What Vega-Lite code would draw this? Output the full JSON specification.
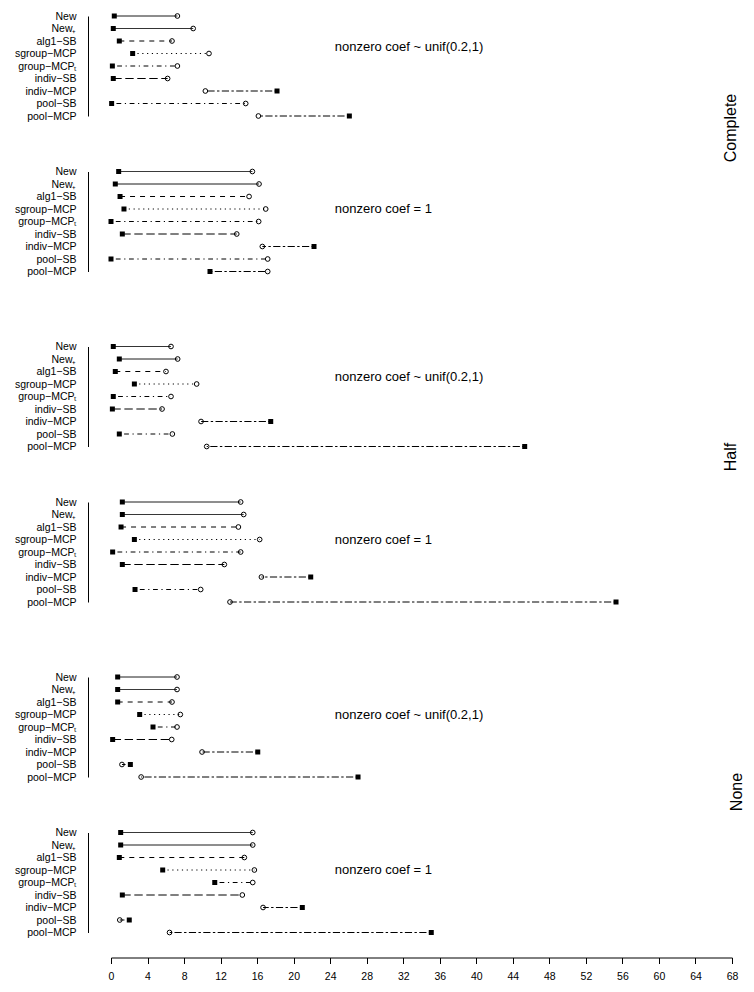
{
  "$schema": "https://vega.github.io/schema/vega-lite/v6.json",
  "background": "white",
  "padding": {"left": 14, "top": 11, "right": 2, "bottom": 2},
  "config": {
    "view": {"stroke": null},
    "font": "Liberation Sans",
    "title": {"font": "Liberation Sans", "fontWeight": "normal", "color": "#000"}
  },
  "datasets": {
    "d": [
      {"panel": 1, "method": "New", "sq": 0.36, "circ": 7.27},
      {"panel": 1, "method": "New₊", "sq": 0.25, "circ": 9.0},
      {"panel": 1, "method": "alg1−SB", "sq": 0.91, "circ": 6.68},
      {"panel": 1, "method": "sgroup−MCP", "sq": 2.37, "circ": 10.73},
      {"panel": 1, "method": "group−MCPₜ", "sq": 0.15, "circ": 7.27},
      {"panel": 1, "method": "indiv−SB", "sq": 0.25, "circ": 6.2},
      {"panel": 1, "method": "indiv−MCP", "sq": 18.18, "circ": 10.33},
      {"panel": 1, "method": "pool−SB", "sq": 0.07, "circ": 14.75},
      {"panel": 1, "method": "pool−MCP", "sq": 26.1, "circ": 16.14},
      {"panel": 2, "method": "New", "sq": 0.84, "circ": 15.48},
      {"panel": 2, "method": "New₊", "sq": 0.47, "circ": 16.21},
      {"panel": 2, "method": "alg1−SB", "sq": 0.99, "circ": 15.12},
      {"panel": 2, "method": "sgroup−MCP", "sq": 1.42, "circ": 16.94},
      {"panel": 2, "method": "group−MCPₜ", "sq": 0.0, "circ": 16.17},
      {"panel": 2, "method": "indiv−SB", "sq": 1.24, "circ": 13.77},
      {"panel": 2, "method": "indiv−MCP", "sq": 22.23, "circ": 16.57},
      {"panel": 2, "method": "pool−SB", "sq": 0.0, "circ": 17.16},
      {"panel": 2, "method": "pool−MCP", "sq": 10.84, "circ": 17.16},
      {"panel": 3, "method": "New", "sq": 0.25, "circ": 6.57},
      {"panel": 3, "method": "New₊", "sq": 0.91, "circ": 7.3},
      {"panel": 3, "method": "alg1−SB", "sq": 0.47, "circ": 6.02},
      {"panel": 3, "method": "sgroup−MCP", "sq": 2.56, "circ": 9.38},
      {"panel": 3, "method": "group−MCPₜ", "sq": 0.25, "circ": 6.57},
      {"panel": 3, "method": "indiv−SB", "sq": 0.15, "circ": 5.59},
      {"panel": 3, "method": "indiv−MCP", "sq": 17.49, "circ": 9.86},
      {"panel": 3, "method": "pool−SB", "sq": 0.91, "circ": 6.72},
      {"panel": 3, "method": "pool−MCP", "sq": 45.3, "circ": 10.48},
      {"panel": 4, "method": "New", "sq": 1.24, "circ": 14.2},
      {"panel": 4, "method": "New₊", "sq": 1.24, "circ": 14.53},
      {"panel": 4, "method": "alg1−SB", "sq": 1.1, "circ": 13.95},
      {"panel": 4, "method": "sgroup−MCP", "sq": 2.56, "circ": 16.28},
      {"panel": 4, "method": "group−MCPₜ", "sq": 0.18, "circ": 14.2},
      {"panel": 4, "method": "indiv−SB", "sq": 1.24, "circ": 12.41},
      {"panel": 4, "method": "indiv−MCP", "sq": 21.87, "circ": 16.47},
      {"panel": 4, "method": "pool−SB", "sq": 2.63, "circ": 9.82},
      {"panel": 4, "method": "pool−MCP", "sq": 55.3, "circ": 13.03},
      {"panel": 5, "method": "New", "sq": 0.73, "circ": 7.23},
      {"panel": 5, "method": "New₊", "sq": 0.73, "circ": 7.23},
      {"panel": 5, "method": "alg1−SB", "sq": 0.73, "circ": 6.68},
      {"panel": 5, "method": "sgroup−MCP", "sq": 3.14, "circ": 7.59},
      {"panel": 5, "method": "group−MCPₜ", "sq": 4.6, "circ": 7.23},
      {"panel": 5, "method": "indiv−SB", "sq": 0.18, "circ": 6.65},
      {"panel": 5, "method": "indiv−MCP", "sq": 16.07, "circ": 9.97},
      {"panel": 5, "method": "pool−SB", "sq": 2.12, "circ": 1.2},
      {"panel": 5, "method": "pool−MCP", "sq": 27.05, "circ": 3.3},
      {"panel": 6, "method": "New", "sq": 1.06, "circ": 15.52},
      {"panel": 6, "method": "New₊", "sq": 1.06, "circ": 15.52},
      {"panel": 6, "method": "alg1−SB", "sq": 0.91, "circ": 14.6},
      {"panel": 6, "method": "sgroup−MCP", "sq": 5.66, "circ": 15.7},
      {"panel": 6, "method": "group−MCPₜ", "sq": 11.36, "circ": 15.52},
      {"panel": 6, "method": "indiv−SB", "sq": 1.24, "circ": 14.38},
      {"panel": 6, "method": "indiv−MCP", "sq": 20.95, "circ": 16.65},
      {"panel": 6, "method": "pool−SB", "sq": 2.0, "circ": 0.96},
      {"panel": 6, "method": "pool−MCP", "sq": 35.07, "circ": 6.41}
    ],
    "notes": [
      {"panel": 1, "label": "nonzero coef ~ unif(0.2,1)", "x": 24.5, "row": "sgroup−MCP"},
      {"panel": 2, "label": "nonzero coef = 1", "x": 24.5, "row": "sgroup−MCP"},
      {"panel": 3, "label": "nonzero coef ~ unif(0.2,1)", "x": 24.5, "row": "sgroup−MCP"},
      {"panel": 4, "label": "nonzero coef = 1", "x": 24.5, "row": "sgroup−MCP"},
      {"panel": 5, "label": "nonzero coef ~ unif(0.2,1)", "x": 24.5, "row": "sgroup−MCP"},
      {"panel": 6, "label": "nonzero coef = 1", "x": 24.5, "row": "sgroup−MCP"}
    ]
  },
  "spacing": 64.5,
  "vconcat": [
    {
      "title": {"text": "Complete", "orient": "right", "angle": -90, "anchor": "middle", "fontSize": 16, "offset": -25, "dx": 16},
      "spacing": 44.5,
      "vconcat": [
        {
          "width": 621, "height": 100,
          "layer": [
            {"data": {"name": "d"}, "transform": [{"filter": "datum.panel == 1"}],
             "mark": {"type": "rule", "color": "#000", "strokeWidth": 1, "strokeCap": "butt"},
             "encoding": {
               "y": {"field": "method", "type": "nominal", "scale": {"type": "point", "padding": 0, "domain": ["New", "New₊", "alg1−SB", "sgroup−MCP", "group−MCPₜ", "indiv−SB", "indiv−MCP", "pool−SB", "pool−MCP"]}, "axis": {"title": null, "domain": true, "domainColor": "#000", "ticks": false, "tickSize": 0, "labelPadding": 12, "offset": 23, "labelFontSize": 10.5, "labelColor": "#000", "grid": false}},
               "x": {"field": "sq", "type": "quantitative", "scale": {"domain": [0, 68], "nice": false, "zero": false}, "axis": null},
               "x2": {"field": "circ"},
               "strokeDash": {"field": "method", "type": "nominal", "legend": null, "scale": {"domain": ["New", "New₊", "alg1−SB", "sgroup−MCP", "group−MCPₜ", "indiv−SB", "indiv−MCP", "pool−SB", "pool−MCP"], "range": [[1, 0], [1, 0], [5, 5], [1.2, 3.6], [1.2, 3.6, 4.8, 3.6], [8.4, 3.6], [2.4, 2.4, 7.2, 2.4], [1.2, 3.6, 4.8, 3.6], [2.4, 2.4, 7.2, 2.4]]}}
             }},
            {"data": {"name": "d"}, "transform": [{"filter": "datum.panel == 1"}],
             "mark": {"type": "point", "shape": "square", "filled": true, "size": 25, "color": "#000", "opacity": 1},
             "encoding": {
               "y": {"field": "method", "type": "nominal", "scale": {"type": "point", "padding": 0, "domain": ["New", "New₊", "alg1−SB", "sgroup−MCP", "group−MCPₜ", "indiv−SB", "indiv−MCP", "pool−SB", "pool−MCP"]}, "axis": {"title": null, "domain": true, "domainColor": "#000", "ticks": false, "tickSize": 0, "labelPadding": 12, "offset": 23, "labelFontSize": 10.5, "labelColor": "#000", "grid": false}},
               "x": {"field": "sq", "type": "quantitative", "scale": {"domain": [0, 68], "nice": false, "zero": false}, "axis": null}
             }},
            {"data": {"name": "d"}, "transform": [{"filter": "datum.panel == 1"}],
             "mark": {"type": "point", "shape": "circle", "filled": false, "size": 22, "strokeWidth": 1, "color": "#000", "opacity": 1},
             "encoding": {
               "y": {"field": "method", "type": "nominal", "scale": {"type": "point", "padding": 0, "domain": ["New", "New₊", "alg1−SB", "sgroup−MCP", "group−MCPₜ", "indiv−SB", "indiv−MCP", "pool−SB", "pool−MCP"]}, "axis": {"title": null, "domain": true, "domainColor": "#000", "ticks": false, "tickSize": 0, "labelPadding": 12, "offset": 23, "labelFontSize": 10.5, "labelColor": "#000", "grid": false}},
               "x": {"field": "circ", "type": "quantitative", "scale": {"domain": [0, 68], "nice": false, "zero": false}, "axis": null}
             }},
            {"data": {"name": "notes"}, "transform": [{"filter": "datum.panel == 1"}],
             "mark": {"type": "text", "align": "left", "baseline": "middle", "fontSize": 13, "dy": -7, "color": "#000"},
             "encoding": {
               "y": {"field": "row", "type": "nominal", "scale": {"type": "point", "padding": 0, "domain": ["New", "New₊", "alg1−SB", "sgroup−MCP", "group−MCPₜ", "indiv−SB", "indiv−MCP", "pool−SB", "pool−MCP"]}, "axis": {"title": null, "domain": true, "domainColor": "#000", "ticks": false, "tickSize": 0, "labelPadding": 12, "offset": 23, "labelFontSize": 10.5, "labelColor": "#000", "grid": false}},
               "x": {"field": "x", "type": "quantitative", "scale": {"domain": [0, 68], "nice": false, "zero": false}, "axis": null},
               "text": {"field": "label"}
             }}
          ]
        },
        {
          "width": 621, "height": 100,
          "layer": [
            {"data": {"name": "d"}, "transform": [{"filter": "datum.panel == 2"}],
             "mark": {"type": "rule", "color": "#000", "strokeWidth": 1, "strokeCap": "butt"},
             "encoding": {
               "y": {"field": "method", "type": "nominal", "scale": {"type": "point", "padding": 0, "domain": ["New", "New₊", "alg1−SB", "sgroup−MCP", "group−MCPₜ", "indiv−SB", "indiv−MCP", "pool−SB", "pool−MCP"]}, "axis": {"title": null, "domain": true, "domainColor": "#000", "ticks": false, "tickSize": 0, "labelPadding": 12, "offset": 23, "labelFontSize": 10.5, "labelColor": "#000", "grid": false}},
               "x": {"field": "sq", "type": "quantitative", "scale": {"domain": [0, 68], "nice": false, "zero": false}, "axis": null},
               "x2": {"field": "circ"},
               "strokeDash": {"field": "method", "type": "nominal", "legend": null, "scale": {"domain": ["New", "New₊", "alg1−SB", "sgroup−MCP", "group−MCPₜ", "indiv−SB", "indiv−MCP", "pool−SB", "pool−MCP"], "range": [[1, 0], [1, 0], [5, 5], [1.2, 3.6], [1.2, 3.6, 4.8, 3.6], [8.4, 3.6], [2.4, 2.4, 7.2, 2.4], [1.2, 3.6, 4.8, 3.6], [2.4, 2.4, 7.2, 2.4]]}}
             }},
            {"data": {"name": "d"}, "transform": [{"filter": "datum.panel == 2"}],
             "mark": {"type": "point", "shape": "square", "filled": true, "size": 25, "color": "#000", "opacity": 1},
             "encoding": {
               "y": {"field": "method", "type": "nominal", "scale": {"type": "point", "padding": 0, "domain": ["New", "New₊", "alg1−SB", "sgroup−MCP", "group−MCPₜ", "indiv−SB", "indiv−MCP", "pool−SB", "pool−MCP"]}, "axis": {"title": null, "domain": true, "domainColor": "#000", "ticks": false, "tickSize": 0, "labelPadding": 12, "offset": 23, "labelFontSize": 10.5, "labelColor": "#000", "grid": false}},
               "x": {"field": "sq", "type": "quantitative", "scale": {"domain": [0, 68], "nice": false, "zero": false}, "axis": null}
             }},
            {"data": {"name": "d"}, "transform": [{"filter": "datum.panel == 2"}],
             "mark": {"type": "point", "shape": "circle", "filled": false, "size": 22, "strokeWidth": 1, "color": "#000", "opacity": 1},
             "encoding": {
               "y": {"field": "method", "type": "nominal", "scale": {"type": "point", "padding": 0, "domain": ["New", "New₊", "alg1−SB", "sgroup−MCP", "group−MCPₜ", "indiv−SB", "indiv−MCP", "pool−SB", "pool−MCP"]}, "axis": {"title": null, "domain": true, "domainColor": "#000", "ticks": false, "tickSize": 0, "labelPadding": 12, "offset": 23, "labelFontSize": 10.5, "labelColor": "#000", "grid": false}},
               "x": {"field": "circ", "type": "quantitative", "scale": {"domain": [0, 68], "nice": false, "zero": false}, "axis": null}
             }},
            {"data": {"name": "notes"}, "transform": [{"filter": "datum.panel == 2"}],
             "mark": {"type": "text", "align": "left", "baseline": "middle", "fontSize": 13, "dy": 0, "color": "#000"},
             "encoding": {
               "y": {"field": "row", "type": "nominal", "scale": {"type": "point", "padding": 0, "domain": ["New", "New₊", "alg1−SB", "sgroup−MCP", "group−MCPₜ", "indiv−SB", "indiv−MCP", "pool−SB", "pool−MCP"]}, "axis": {"title": null, "domain": true, "domainColor": "#000", "ticks": false, "tickSize": 0, "labelPadding": 12, "offset": 23, "labelFontSize": 10.5, "labelColor": "#000", "grid": false}},
               "x": {"field": "x", "type": "quantitative", "scale": {"domain": [0, 68], "nice": false, "zero": false}, "axis": null},
               "text": {"field": "label"}
             }}
          ]
        }
      ]
    },
    {
      "title": {"text": "Half", "orient": "right", "angle": -90, "anchor": "middle", "fontSize": 16, "offset": -25, "dx": 17.5},
      "spacing": 44.5,
      "vconcat": [
        {
          "width": 621, "height": 100,
          "layer": [
            {"data": {"name": "d"}, "transform": [{"filter": "datum.panel == 3"}],
             "mark": {"type": "rule", "color": "#000", "strokeWidth": 1, "strokeCap": "butt"},
             "encoding": {
               "y": {"field": "method", "type": "nominal", "scale": {"type": "point", "padding": 0, "domain": ["New", "New₊", "alg1−SB", "sgroup−MCP", "group−MCPₜ", "indiv−SB", "indiv−MCP", "pool−SB", "pool−MCP"]}, "axis": {"title": null, "domain": true, "domainColor": "#000", "ticks": false, "tickSize": 0, "labelPadding": 12, "offset": 23, "labelFontSize": 10.5, "labelColor": "#000", "grid": false}},
               "x": {"field": "sq", "type": "quantitative", "scale": {"domain": [0, 68], "nice": false, "zero": false}, "axis": null},
               "x2": {"field": "circ"},
               "strokeDash": {"field": "method", "type": "nominal", "legend": null, "scale": {"domain": ["New", "New₊", "alg1−SB", "sgroup−MCP", "group−MCPₜ", "indiv−SB", "indiv−MCP", "pool−SB", "pool−MCP"], "range": [[1, 0], [1, 0], [5, 5], [1.2, 3.6], [1.2, 3.6, 4.8, 3.6], [8.4, 3.6], [2.4, 2.4, 7.2, 2.4], [1.2, 3.6, 4.8, 3.6], [2.4, 2.4, 7.2, 2.4]]}}
             }},
            {"data": {"name": "d"}, "transform": [{"filter": "datum.panel == 3"}],
             "mark": {"type": "point", "shape": "square", "filled": true, "size": 25, "color": "#000", "opacity": 1},
             "encoding": {
               "y": {"field": "method", "type": "nominal", "scale": {"type": "point", "padding": 0, "domain": ["New", "New₊", "alg1−SB", "sgroup−MCP", "group−MCPₜ", "indiv−SB", "indiv−MCP", "pool−SB", "pool−MCP"]}, "axis": {"title": null, "domain": true, "domainColor": "#000", "ticks": false, "tickSize": 0, "labelPadding": 12, "offset": 23, "labelFontSize": 10.5, "labelColor": "#000", "grid": false}},
               "x": {"field": "sq", "type": "quantitative", "scale": {"domain": [0, 68], "nice": false, "zero": false}, "axis": null}
             }},
            {"data": {"name": "d"}, "transform": [{"filter": "datum.panel == 3"}],
             "mark": {"type": "point", "shape": "circle", "filled": false, "size": 22, "strokeWidth": 1, "color": "#000", "opacity": 1},
             "encoding": {
               "y": {"field": "method", "type": "nominal", "scale": {"type": "point", "padding": 0, "domain": ["New", "New₊", "alg1−SB", "sgroup−MCP", "group−MCPₜ", "indiv−SB", "indiv−MCP", "pool−SB", "pool−MCP"]}, "axis": {"title": null, "domain": true, "domainColor": "#000", "ticks": false, "tickSize": 0, "labelPadding": 12, "offset": 23, "labelFontSize": 10.5, "labelColor": "#000", "grid": false}},
               "x": {"field": "circ", "type": "quantitative", "scale": {"domain": [0, 68], "nice": false, "zero": false}, "axis": null}
             }},
            {"data": {"name": "notes"}, "transform": [{"filter": "datum.panel == 3"}],
             "mark": {"type": "text", "align": "left", "baseline": "middle", "fontSize": 13, "dy": -7, "color": "#000"},
             "encoding": {
               "y": {"field": "row", "type": "nominal", "scale": {"type": "point", "padding": 0, "domain": ["New", "New₊", "alg1−SB", "sgroup−MCP", "group−MCPₜ", "indiv−SB", "indiv−MCP", "pool−SB", "pool−MCP"]}, "axis": {"title": null, "domain": true, "domainColor": "#000", "ticks": false, "tickSize": 0, "labelPadding": 12, "offset": 23, "labelFontSize": 10.5, "labelColor": "#000", "grid": false}},
               "x": {"field": "x", "type": "quantitative", "scale": {"domain": [0, 68], "nice": false, "zero": false}, "axis": null},
               "text": {"field": "label"}
             }}
          ]
        },
        {
          "width": 621, "height": 100,
          "layer": [
            {"data": {"name": "d"}, "transform": [{"filter": "datum.panel == 4"}],
             "mark": {"type": "rule", "color": "#000", "strokeWidth": 1, "strokeCap": "butt"},
             "encoding": {
               "y": {"field": "method", "type": "nominal", "scale": {"type": "point", "padding": 0, "domain": ["New", "New₊", "alg1−SB", "sgroup−MCP", "group−MCPₜ", "indiv−SB", "indiv−MCP", "pool−SB", "pool−MCP"]}, "axis": {"title": null, "domain": true, "domainColor": "#000", "ticks": false, "tickSize": 0, "labelPadding": 12, "offset": 23, "labelFontSize": 10.5, "labelColor": "#000", "grid": false}},
               "x": {"field": "sq", "type": "quantitative", "scale": {"domain": [0, 68], "nice": false, "zero": false}, "axis": null},
               "x2": {"field": "circ"},
               "strokeDash": {"field": "method", "type": "nominal", "legend": null, "scale": {"domain": ["New", "New₊", "alg1−SB", "sgroup−MCP", "group−MCPₜ", "indiv−SB", "indiv−MCP", "pool−SB", "pool−MCP"], "range": [[1, 0], [1, 0], [5, 5], [1.2, 3.6], [1.2, 3.6, 4.8, 3.6], [8.4, 3.6], [2.4, 2.4, 7.2, 2.4], [1.2, 3.6, 4.8, 3.6], [2.4, 2.4, 7.2, 2.4]]}}
             }},
            {"data": {"name": "d"}, "transform": [{"filter": "datum.panel == 4"}],
             "mark": {"type": "point", "shape": "square", "filled": true, "size": 25, "color": "#000", "opacity": 1},
             "encoding": {
               "y": {"field": "method", "type": "nominal", "scale": {"type": "point", "padding": 0, "domain": ["New", "New₊", "alg1−SB", "sgroup−MCP", "group−MCPₜ", "indiv−SB", "indiv−MCP", "pool−SB", "pool−MCP"]}, "axis": {"title": null, "domain": true, "domainColor": "#000", "ticks": false, "tickSize": 0, "labelPadding": 12, "offset": 23, "labelFontSize": 10.5, "labelColor": "#000", "grid": false}},
               "x": {"field": "sq", "type": "quantitative", "scale": {"domain": [0, 68], "nice": false, "zero": false}, "axis": null}
             }},
            {"data": {"name": "d"}, "transform": [{"filter": "datum.panel == 4"}],
             "mark": {"type": "point", "shape": "circle", "filled": false, "size": 22, "strokeWidth": 1, "color": "#000", "opacity": 1},
             "encoding": {
               "y": {"field": "method", "type": "nominal", "scale": {"type": "point", "padding": 0, "domain": ["New", "New₊", "alg1−SB", "sgroup−MCP", "group−MCPₜ", "indiv−SB", "indiv−MCP", "pool−SB", "pool−MCP"]}, "axis": {"title": null, "domain": true, "domainColor": "#000", "ticks": false, "tickSize": 0, "labelPadding": 12, "offset": 23, "labelFontSize": 10.5, "labelColor": "#000", "grid": false}},
               "x": {"field": "circ", "type": "quantitative", "scale": {"domain": [0, 68], "nice": false, "zero": false}, "axis": null}
             }},
            {"data": {"name": "notes"}, "transform": [{"filter": "datum.panel == 4"}],
             "mark": {"type": "text", "align": "left", "baseline": "middle", "fontSize": 13, "dy": 0, "color": "#000"},
             "encoding": {
               "y": {"field": "row", "type": "nominal", "scale": {"type": "point", "padding": 0, "domain": ["New", "New₊", "alg1−SB", "sgroup−MCP", "group−MCPₜ", "indiv−SB", "indiv−MCP", "pool−SB", "pool−MCP"]}, "axis": {"title": null, "domain": true, "domainColor": "#000", "ticks": false, "tickSize": 0, "labelPadding": 12, "offset": 23, "labelFontSize": 10.5, "labelColor": "#000", "grid": false}},
               "x": {"field": "x", "type": "quantitative", "scale": {"domain": [0, 68], "nice": false, "zero": false}, "axis": null},
               "text": {"field": "label"}
             }}
          ]
        }
      ]
    },
    {
      "title": {"text": "None", "orient": "right", "angle": -90, "anchor": "middle", "fontSize": 16, "offset": -25, "dx": 35},
      "spacing": 44.5,
      "vconcat": [
        {
          "width": 621, "height": 100,
          "layer": [
            {"data": {"name": "d"}, "transform": [{"filter": "datum.panel == 5"}],
             "mark": {"type": "rule", "color": "#000", "strokeWidth": 1, "strokeCap": "butt"},
             "encoding": {
               "y": {"field": "method", "type": "nominal", "scale": {"type": "point", "padding": 0, "domain": ["New", "New₊", "alg1−SB", "sgroup−MCP", "group−MCPₜ", "indiv−SB", "indiv−MCP", "pool−SB", "pool−MCP"]}, "axis": {"title": null, "domain": true, "domainColor": "#000", "ticks": false, "tickSize": 0, "labelPadding": 12, "offset": 23, "labelFontSize": 10.5, "labelColor": "#000", "grid": false}},
               "x": {"field": "sq", "type": "quantitative", "scale": {"domain": [0, 68], "nice": false, "zero": false}, "axis": null},
               "x2": {"field": "circ"},
               "strokeDash": {"field": "method", "type": "nominal", "legend": null, "scale": {"domain": ["New", "New₊", "alg1−SB", "sgroup−MCP", "group−MCPₜ", "indiv−SB", "indiv−MCP", "pool−SB", "pool−MCP"], "range": [[1, 0], [1, 0], [5, 5], [1.2, 3.6], [1.2, 3.6, 4.8, 3.6], [8.4, 3.6], [2.4, 2.4, 7.2, 2.4], [1.2, 3.6, 4.8, 3.6], [2.4, 2.4, 7.2, 2.4]]}}
             }},
            {"data": {"name": "d"}, "transform": [{"filter": "datum.panel == 5"}],
             "mark": {"type": "point", "shape": "square", "filled": true, "size": 25, "color": "#000", "opacity": 1},
             "encoding": {
               "y": {"field": "method", "type": "nominal", "scale": {"type": "point", "padding": 0, "domain": ["New", "New₊", "alg1−SB", "sgroup−MCP", "group−MCPₜ", "indiv−SB", "indiv−MCP", "pool−SB", "pool−MCP"]}, "axis": {"title": null, "domain": true, "domainColor": "#000", "ticks": false, "tickSize": 0, "labelPadding": 12, "offset": 23, "labelFontSize": 10.5, "labelColor": "#000", "grid": false}},
               "x": {"field": "sq", "type": "quantitative", "scale": {"domain": [0, 68], "nice": false, "zero": false}, "axis": null}
             }},
            {"data": {"name": "d"}, "transform": [{"filter": "datum.panel == 5"}],
             "mark": {"type": "point", "shape": "circle", "filled": false, "size": 22, "strokeWidth": 1, "color": "#000", "opacity": 1},
             "encoding": {
               "y": {"field": "method", "type": "nominal", "scale": {"type": "point", "padding": 0, "domain": ["New", "New₊", "alg1−SB", "sgroup−MCP", "group−MCPₜ", "indiv−SB", "indiv−MCP", "pool−SB", "pool−MCP"]}, "axis": {"title": null, "domain": true, "domainColor": "#000", "ticks": false, "tickSize": 0, "labelPadding": 12, "offset": 23, "labelFontSize": 10.5, "labelColor": "#000", "grid": false}},
               "x": {"field": "circ", "type": "quantitative", "scale": {"domain": [0, 68], "nice": false, "zero": false}, "axis": null}
             }},
            {"data": {"name": "notes"}, "transform": [{"filter": "datum.panel == 5"}],
             "mark": {"type": "text", "align": "left", "baseline": "middle", "fontSize": 13, "dy": 0, "color": "#000"},
             "encoding": {
               "y": {"field": "row", "type": "nominal", "scale": {"type": "point", "padding": 0, "domain": ["New", "New₊", "alg1−SB", "sgroup−MCP", "group−MCPₜ", "indiv−SB", "indiv−MCP", "pool−SB", "pool−MCP"]}, "axis": {"title": null, "domain": true, "domainColor": "#000", "ticks": false, "tickSize": 0, "labelPadding": 12, "offset": 23, "labelFontSize": 10.5, "labelColor": "#000", "grid": false}},
               "x": {"field": "x", "type": "quantitative", "scale": {"domain": [0, 68], "nice": false, "zero": false}, "axis": null},
               "text": {"field": "label"}
             }}
          ]
        },
        {
          "width": 621, "height": 100,
          "layer": [
            {"data": {"name": "d"}, "transform": [{"filter": "datum.panel == 6"}],
             "mark": {"type": "rule", "color": "#000", "strokeWidth": 1, "strokeCap": "butt"},
             "encoding": {
               "y": {"field": "method", "type": "nominal", "scale": {"type": "point", "padding": 0, "domain": ["New", "New₊", "alg1−SB", "sgroup−MCP", "group−MCPₜ", "indiv−SB", "indiv−MCP", "pool−SB", "pool−MCP"]}, "axis": {"title": null, "domain": true, "domainColor": "#000", "ticks": false, "tickSize": 0, "labelPadding": 12, "offset": 23, "labelFontSize": 10.5, "labelColor": "#000", "grid": false}},
               "x": {"field": "sq", "type": "quantitative", "scale": {"domain": [0, 68], "nice": false, "zero": false}, "axis": {"title": null, "values": [0, 4, 8, 12, 16, 20, 24, 28, 32, 36, 40, 44, 48, 52, 56, 60, 64, 68], "offset": 25, "tickSize": 6, "tickColor": "#000", "domainColor": "#000", "labelFontSize": 10.5, "labelPadding": 8, "labelColor": "#000", "grid": false, "labelFlush": false, "labelOverlap": false}},
               "x2": {"field": "circ"},
               "strokeDash": {"field": "method", "type": "nominal", "legend": null, "scale": {"domain": ["New", "New₊", "alg1−SB", "sgroup−MCP", "group−MCPₜ", "indiv−SB", "indiv−MCP", "pool−SB", "pool−MCP"], "range": [[1, 0], [1, 0], [5, 5], [1.2, 3.6], [1.2, 3.6, 4.8, 3.6], [8.4, 3.6], [2.4, 2.4, 7.2, 2.4], [1.2, 3.6, 4.8, 3.6], [2.4, 2.4, 7.2, 2.4]]}}
             }},
            {"data": {"name": "d"}, "transform": [{"filter": "datum.panel == 6"}],
             "mark": {"type": "point", "shape": "square", "filled": true, "size": 25, "color": "#000", "opacity": 1},
             "encoding": {
               "y": {"field": "method", "type": "nominal", "scale": {"type": "point", "padding": 0, "domain": ["New", "New₊", "alg1−SB", "sgroup−MCP", "group−MCPₜ", "indiv−SB", "indiv−MCP", "pool−SB", "pool−MCP"]}, "axis": {"title": null, "domain": true, "domainColor": "#000", "ticks": false, "tickSize": 0, "labelPadding": 12, "offset": 23, "labelFontSize": 10.5, "labelColor": "#000", "grid": false}},
               "x": {"field": "sq", "type": "quantitative", "scale": {"domain": [0, 68], "nice": false, "zero": false}, "axis": {"title": null, "values": [0, 4, 8, 12, 16, 20, 24, 28, 32, 36, 40, 44, 48, 52, 56, 60, 64, 68], "offset": 25, "tickSize": 6, "tickColor": "#000", "domainColor": "#000", "labelFontSize": 10.5, "labelPadding": 8, "labelColor": "#000", "grid": false, "labelFlush": false, "labelOverlap": false}}
             }},
            {"data": {"name": "d"}, "transform": [{"filter": "datum.panel == 6"}],
             "mark": {"type": "point", "shape": "circle", "filled": false, "size": 22, "strokeWidth": 1, "color": "#000", "opacity": 1},
             "encoding": {
               "y": {"field": "method", "type": "nominal", "scale": {"type": "point", "padding": 0, "domain": ["New", "New₊", "alg1−SB", "sgroup−MCP", "group−MCPₜ", "indiv−SB", "indiv−MCP", "pool−SB", "pool−MCP"]}, "axis": {"title": null, "domain": true, "domainColor": "#000", "ticks": false, "tickSize": 0, "labelPadding": 12, "offset": 23, "labelFontSize": 10.5, "labelColor": "#000", "grid": false}},
               "x": {"field": "circ", "type": "quantitative", "scale": {"domain": [0, 68], "nice": false, "zero": false}, "axis": {"title": null, "values": [0, 4, 8, 12, 16, 20, 24, 28, 32, 36, 40, 44, 48, 52, 56, 60, 64, 68], "offset": 25, "tickSize": 6, "tickColor": "#000", "domainColor": "#000", "labelFontSize": 10.5, "labelPadding": 8, "labelColor": "#000", "grid": false, "labelFlush": false, "labelOverlap": false}}
             }},
            {"data": {"name": "notes"}, "transform": [{"filter": "datum.panel == 6"}],
             "mark": {"type": "text", "align": "left", "baseline": "middle", "fontSize": 13, "dy": 0, "color": "#000"},
             "encoding": {
               "y": {"field": "row", "type": "nominal", "scale": {"type": "point", "padding": 0, "domain": ["New", "New₊", "alg1−SB", "sgroup−MCP", "group−MCPₜ", "indiv−SB", "indiv−MCP", "pool−SB", "pool−MCP"]}, "axis": {"title": null, "domain": true, "domainColor": "#000", "ticks": false, "tickSize": 0, "labelPadding": 12, "offset": 23, "labelFontSize": 10.5, "labelColor": "#000", "grid": false}},
               "x": {"field": "x", "type": "quantitative", "scale": {"domain": [0, 68], "nice": false, "zero": false}, "axis": {"title": null, "values": [0, 4, 8, 12, 16, 20, 24, 28, 32, 36, 40, 44, 48, 52, 56, 60, 64, 68], "offset": 25, "tickSize": 6, "tickColor": "#000", "domainColor": "#000", "labelFontSize": 10.5, "labelPadding": 8, "labelColor": "#000", "grid": false, "labelFlush": false, "labelOverlap": false}},
               "text": {"field": "label"}
             }}
          ]
        }
      ]
    }
  ]
}
